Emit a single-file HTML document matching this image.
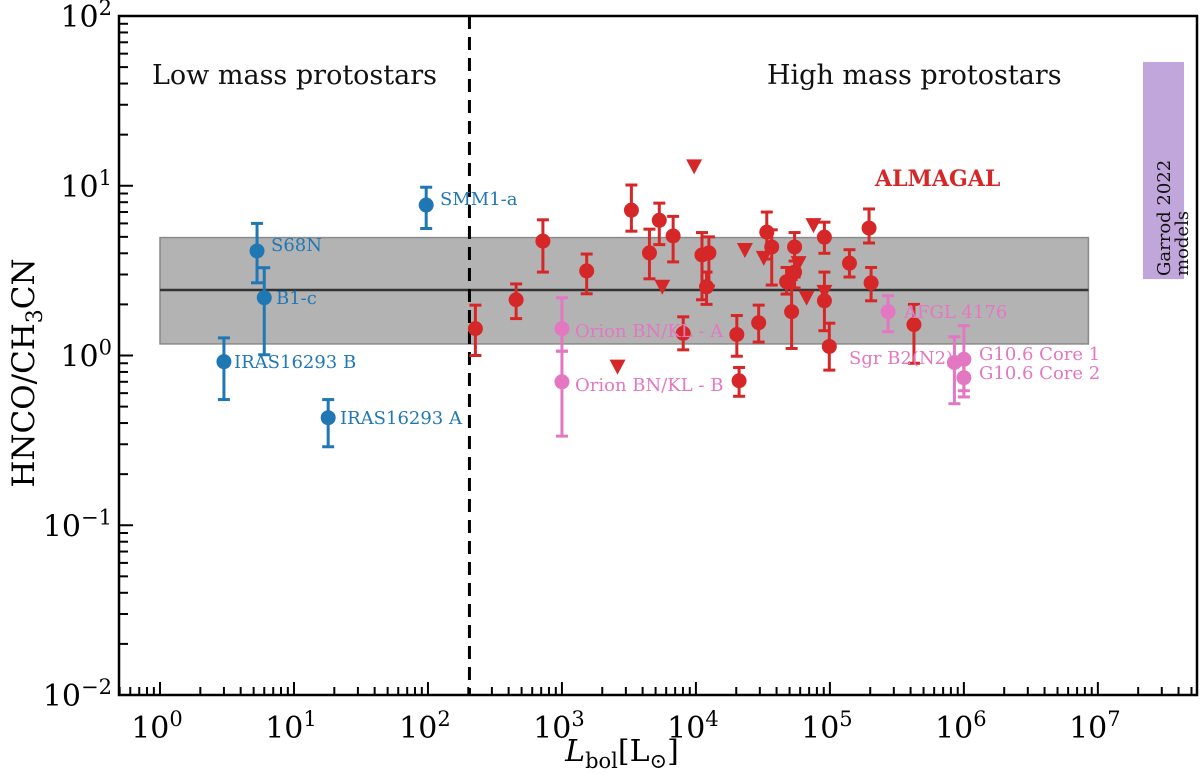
<!DOCTYPE html>
<html><head><meta charset="utf-8"><style>
html,body{margin:0;padding:0;background:#fff;}
svg{display:block;font-family:"DejaVu Serif","Liberation Serif",serif;}
</style></head><body>
<svg id="chart" width="1200" height="775" viewBox="0 0 1200 775" xmlns="http://www.w3.org/2000/svg">
<g id="bg"></g>
<g id="axes"></g>
<g id="marks"></g>
<g id="labels"></g>
</svg>
<script>
// ---- data ----
const lowNames = ["IRAS16293 B","S68N","B1-c","SMM1-a","IRAS16293 A"];
const lowL     = [3, 5.3, 6.0, 97, 18];
const lowR     = [0.92, 4.13, 2.19, 7.7, 0.43];
const lowHi    = [1.27, 6.0, 3.29, 9.8, 0.55];
const lowLo    = [0.55, 2.68, 1.01, 5.6, 0.29];

const almaL  = [226, 455, 721, 1530, 3300, 4500, 5330, 6760, 8040, 11100, 12500, 12000, 20200, 21000, 29400, 33800, 36800, 54500, 47500, 54500, 51800, 91000, 91000, 99000, 140000, 196000, 203000, 424000];
const almaR  = [1.44, 2.13, 4.72, 3.15, 7.18, 4.02, 6.26, 5.06, 1.35, 3.91, 4.02, 2.54, 1.33, 0.71, 1.56, 5.33, 4.36, 4.36, 2.72, 3.1, 1.81, 4.98, 2.1, 1.13, 3.5, 5.63, 2.68, 1.52];
const almaHi = [1.98, 2.64, 6.3, 3.96, 10.1, 5.55, 7.9, 6.6, 1.69, 5.3, 5.0, 3.1, 1.72, 0.85, 1.98, 7.0, 5.5, 5.3, 3.3, 3.6, 2.8, 6.1, 3.1, 1.55, 4.2, 7.3, 3.3, 2.0];
const almaLo = [1.0, 1.65, 3.1, 2.31, 5.4, 2.83, 4.5, 3.56, 1.08, 2.13, 2.57, 2.0, 0.99, 0.575, 1.2, 3.7, 2.6, 2.9, 2.3, 2.5, 1.1, 4.0, 1.4, 0.82, 2.9, 4.6, 2.1, 0.9];

const limL = [9700, 5610, 2600, 23200, 32100, 58400, 67000, 75400, 91000];
const limR = [13.0, 2.54, 0.86, 4.18, 3.76, 3.5, 2.19, 5.86, 2.37];

const litNames = ["Orion BN/KL - A","Orion BN/KL - B","AFGL 4176","Sgr B2(N2)","G10.6 Core 1","G10.6 Core 2"];
const litL  = [1000, 1000, 272000, 850000, 1000000, 1000000];
const litR  = [1.44, 0.70, 1.81, 0.91, 0.95, 0.74];
const litHi = [2.19, 1.06, 2.25, 1.29, 1.5, 0.95];
const litLo = [1.06, 0.335, 1.38, 0.52, 0.57, 0.62];

const bandR = [1.17, 2.43, 4.95];
const bandL = [1, 8.5e6];
const garrodL = [2.17e7, 4.4e7];
const garrodR = [2.82, 53.6];
const divideL = [204];
const xTicks = [0,1,2,3,4,5,6,7];
const yTicks = [-2,-1,0,1,2];

// ---- scales ----
const X0=119, X1=1197, Y0=16, Y1=695;
const xMin=-0.306, xMax=7.74, yMin=-2, yMax=2;
const xs = v => X0 + (Math.log10(v)-xMin)/(xMax-xMin)*(X1-X0);
const ys = v => Y1 - (Math.log10(v)-yMin)/(yMax-yMin)*(Y1-Y0);
const NS="http://www.w3.org/2000/svg";
function mk(tag, attrs, parent, text){
  const e=document.createElementNS(NS,tag);
  for(const k in attrs) e.setAttribute(k,attrs[k]);
  if(text!==undefined) e.textContent=text;
  parent.appendChild(e); return e;
}
const bg=document.getElementById('bg'), ax=document.getElementById('axes'),
      mk_=document.getElementById('marks'), lb=document.getElementById('labels');

let band=mk('rect',{x:xs(bandL[0]),y:ys(bandR[2]),width:xs(bandL[1])-xs(bandL[0]),height:ys(bandR[0])-ys(bandR[2]),fill:'#b3b3b3',stroke:'#8a8a8a','stroke-width':1.5},bg);


let med=mk('line',{x1:xs(bandL[0]),x2:xs(bandL[1]),y1:ys(bandR[1]),y2:ys(bandR[1]),stroke:'#333','stroke-width':2.5},bg);


let gr=mk('rect',{x:xs(garrodL[0]),y:ys(garrodR[1]),width:xs(garrodL[1])-xs(garrodL[0]),height:ys(garrodR[0])-ys(garrodR[1]),fill:'#c0a6da'},bg);


let gt=mk('text',{transform:'translate(1170,276) rotate(-90)','font-size':18,fill:'#111'},bg,'Garrod 2022');


let gt2=mk('text',{transform:'translate(1188,276) rotate(-90)','font-size':18,fill:'#111'},bg,'models');



let dv=mk('line',{x1:xs(divideL[0]),x2:xs(divideL[0]),y1:Y0,y2:Y1,stroke:'#000','stroke-width':3,'stroke-dasharray':'13,8'},bg);



let fr=mk('rect',{x:X0,y:Y0,width:X1-X0,height:Y1-Y0,fill:'none',stroke:'#000','stroke-width':2.5},ax);


for(let d=-1; d<=7; d++){
  for(let m=1;m<10;m++){
    const v=m*Math.pow(10,d), lv=Math.log10(v);
    if(lv<xMin||lv>xMax) continue;
    const x=xs(v), len=(m===1)?13:8;
    mk('line',{x1:x,x2:x,y1:Y1,y2:Y1-len,stroke:'#000','stroke-width':2},ax);
  }
}
xTicks.forEach(t=>{
  const x=xs(Math.pow(10,t));
  const tx=mk('text',{x:x-3,y:738,'font-size':30,'text-anchor':'middle',fill:'#000'},ax);
  
  
  mk('tspan',{},tx,'10');
  mk('tspan',{dy:-12,'font-size':21},tx,String(t));
});
for(let d=-2; d<=1; d++){
  for(let m=1;m<10;m++){
    const v=m*Math.pow(10,d); const y=ys(v), len=(m===1)?14:9;
    mk('line',{x1:X0,x2:X0+len,y1:y,y2:y,stroke:'#000','stroke-width':2},ax);
  }
}
yTicks.forEach(t=>{
  const y=ys(Math.pow(10,t));
  const tx=mk('text',{x:112,y:y+11,'font-size':30,'text-anchor':'end',fill:'#000'},ax);
  
  
  mk('tspan',{},tx,'10');
  mk('tspan',{dy:-12,'font-size':21},tx,t<0?'\u2212'+(-t):String(t));
});
let yt=mk('text',{transform:'translate(34,373) rotate(-90)','font-size':31,'text-anchor':'middle',fill:'#000'},ax);


mk('tspan',{},yt,'HNCO/CH');mk('tspan',{dy:8,'font-size':22},yt,'3');mk('tspan',{dy:-8},yt,'CN');
let xt=mk('text',{x:622,y:761,'font-size':30,'text-anchor':'middle',fill:'#000'},ax);


mk('tspan',{'font-style':'italic'},xt,'L');mk('tspan',{dy:7,'font-size':21},xt,'bol');mk('tspan',{dy:-7},xt,'[L');mk('tspan',{dy:7,'font-size':21},xt,'\u2299');mk('tspan',{dy:-7},xt,']');

function errPoint(L,R,hi,lo,color,name){
  const g=mk('g',{},mk_);
  
  
  const x=xs(L);
  mk('line',{x1:x,x2:x,y1:ys(hi),y2:ys(lo),stroke:color,'stroke-width':3},g);
  mk('line',{x1:x-6,x2:x+6,y1:ys(hi),y2:ys(hi),stroke:color,'stroke-width':3},g);
  mk('line',{x1:x-6,x2:x+6,y1:ys(lo),y2:ys(lo),stroke:color,'stroke-width':3},g);
  mk('circle',{cx:x,cy:ys(R),r:7.5,fill:color},g);
}
lowL.forEach((L,i)=>errPoint(L,lowR[i],lowHi[i],lowLo[i],'#1f77b4','low-mass-point'));
almaL.forEach((L,i)=>errPoint(L,almaR[i],almaHi[i],almaLo[i],'#d62728','almagal-point'));
limL.forEach((L,i)=>{
  const x=xs(L), y=ys(limR[i]);
  const p=mk('polygon',{points:`${x-8},${y-7} ${x+8},${y-7} ${x},${y+8}`,fill:'#d62728'},mk_);
  
  
});
litL.forEach((L,i)=>errPoint(L,litR[i],litHi[i],litLo[i],'#e377c2','literature-high-mass-point'));

function lab(x,y,txt,color,name,extra){
  const t=mk('text',Object.assign({x:x,y:y,'font-size':18,fill:color},extra||{}),lb,txt);
  
  
}
lab(234,368,'IRAS16293 B','#1f77b4','label-iras16293-b');
lab(271,251,'S68N','#1f77b4','label-s68n');
lab(276,304,'B1-c','#1f77b4','label-b1-c');
lab(440,205,'SMM1-a','#1f77b4','label-smm1-a');
lab(340,424,'IRAS16293 A','#1f77b4','label-iras16293-a');
lab(575,337,'Orion BN/KL - A','#e377c2','label-orion-a');
lab(575,391,'Orion BN/KL - B','#e377c2','label-orion-b');
lab(904,318,'AFGL 4176','#e377c2','label-afgl4176');
lab(849,364,'Sgr B2(N2)','#e377c2','label-sgrb2');
lab(979,360,'G10.6 Core 1','#e377c2','label-g106-core1');
lab(979,379,'G10.6 Core 2','#e377c2','label-g106-core2');
lab(875,186,'ALMAGAL','#d62728','label-almagal',{'font-weight':'bold','font-size':22});
lab(152,84,'Low mass protostars','#111','region-label-low',{'font-size':27});
lab(767,84,'High mass protostars','#111','region-label-high',{'font-size':27});
</script>
</body></html>
